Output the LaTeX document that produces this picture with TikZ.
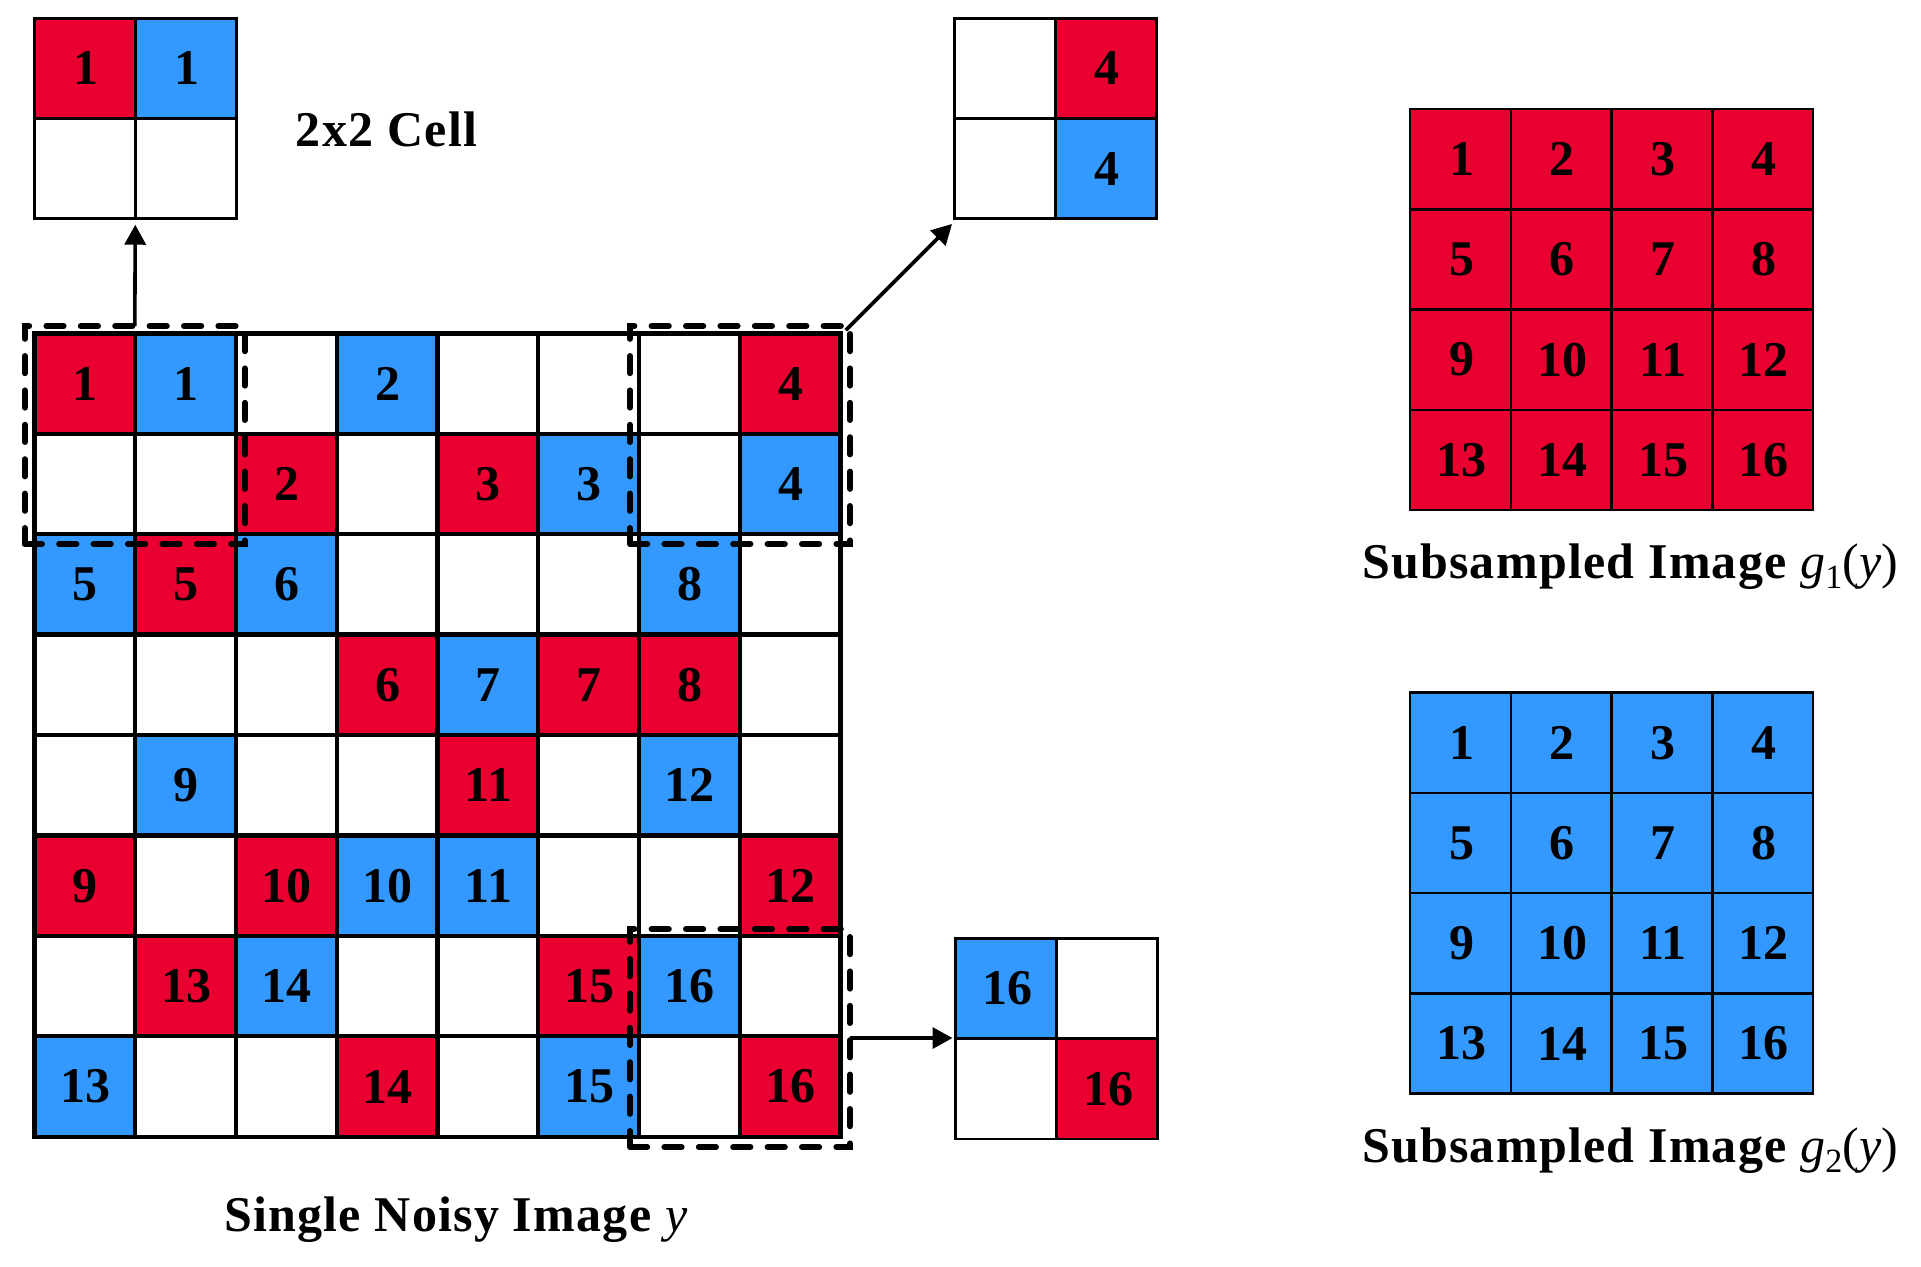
\documentclass[tikz,border=0pt]{standalone}
\usepackage{fontspec}
\setmainfont{Liberation Serif}
\newfontfamily\lblfont[LetterSpace=2.5]{Liberation Serif}
\usetikzlibrary{arrows.meta}
\definecolor{cellred}{HTML}{EA0030}
\definecolor{cellblue}{HTML}{3399FF}
\newcommand{\numfont}{\fontsize{25}{26}\selectfont\bfseries}
\newcommand{\lblsize}{\lblfont\fontsize{25}{27}\selectfont\bfseries}
\newcommand{\varit}[1]{{\mdseries\itshape #1}}
\newcommand{\subidx}[1]{\raisebox{-0.2em}{\mdseries\fontsize{17}{18}\selectfont #1}}
\tikzset{
  every node/.style={inner sep=0pt,outer sep=0pt},
  gridcell/.style={draw=black,line width=2.2pt,minimum width=50.375pt,minimum height=50.25pt,font=\numfont,execute at begin node=\hspace*{0.6pt}},
  smallcell/.style={draw=black,line width=1.4pt,minimum width=50.4pt,minimum height=50.1pt,font=\numfont,execute at begin node=\hspace*{1.4pt}},
  subcell/.style={draw=black,line width=1.25pt,minimum width=50.375pt,minimum height=50.125pt,font=\numfont,execute at begin node=\hspace*{1.2pt}},
  rd/.style={fill=cellred},
  bl/.style={fill=cellblue},
  wh/.style={fill=white},
  groupbox/.style={minimum width=100.8pt,minimum height=100.2pt},
  dashbox/.style={draw=black,line width=3pt,line cap=round,dash pattern=on 8.6pt off 8.6pt,minimum width=110pt,minimum height=109pt},
  conn/.style={line width=1.8pt,-{Triangle[length=10pt,width=10.5pt]}},
  lbl/.style={font=\lblsize,anchor=base},
}
\begin{document}
\begin{tikzpicture}[x=0.5pt,y=-0.5pt]
\useasboundingbox (0,0) rectangle (1921,1266);
% main grid
\foreach \r/\c/\s/\t in {
 1/1/rd/1,1/2/bl/1,1/3/wh/{},1/4/bl/2,1/5/wh/{},1/6/wh/{},1/7/wh/{},1/8/rd/4,
 2/1/wh/{},2/2/wh/{},2/3/rd/2,2/4/wh/{},2/5/rd/3,2/6/bl/3,2/7/wh/{},2/8/bl/4,
 3/1/bl/5,3/2/rd/5,3/3/bl/6,3/4/wh/{},3/5/wh/{},3/6/wh/{},3/7/bl/8,3/8/wh/{},
 4/1/wh/{},4/2/wh/{},4/3/wh/{},4/4/rd/6,4/5/bl/7,4/6/rd/7,4/7/rd/8,4/8/wh/{},
 5/1/wh/{},5/2/bl/9,5/3/wh/{},5/4/wh/{},5/5/rd/11,5/6/wh/{},5/7/bl/12,5/8/wh/{},
 6/1/rd/9,6/2/wh/{},6/3/rd/10,6/4/bl/10,6/5/bl/11,6/6/wh/{},6/7/wh/{},6/8/rd/12,
 7/1/wh/{},7/2/rd/13,7/3/bl/14,7/4/wh/{},7/5/wh/{},7/6/rd/15,7/7/bl/16,7/8/wh/{},
 8/1/bl/13,8/2/wh/{},8/3/wh/{},8/4/rd/14,8/5/wh/{},8/6/bl/15,8/7/wh/{},8/8/rd/16}
 {\node[gridcell,\s] (m\r\c) at ({34.5+100.75*(\c-0.5)},{333.5+100.4*(\r-0.5)}) {\t};}
% 2x2 cells
\foreach \r/\c/\s/\t in {1/1/rd/1,1/2/bl/1,2/1/wh/{},2/2/wh/{}}
 {\node[smallcell,\s] (a\r\c) at ({34.5+100.8*(\c-0.5)},{18.3+100.2*(\r-0.5)}) {\t};}
\foreach \r/\c/\s/\t in {1/1/wh/{},1/2/rd/4,2/1/wh/{},2/2/bl/4}
 {\node[smallcell,\s] (b\r\c) at ({954.5+100.8*(\c-0.5)},{18.3+100.2*(\r-0.5)}) {\t};}
\foreach \r/\c/\s/\t in {1/1/bl/16,1/2/wh/{},2/1/wh/{},2/2/rd/16}
 {\node[smallcell,\s] (c\r\c) at ({955.5+100.8*(\c-0.5)},{938.5+100.2*(\r-0.5)}) {\t};}
% subsampled grids
\foreach \r in {1,...,4} \foreach \c in {1,...,4} {
  \pgfmathtruncatemacro{\n}{(\r-1)*4+\c}
  \node[subcell,rd] (s\r\c) at ({1410+100.75*(\c-0.5)},{109+100.25*(\r-0.5)}) {\n};
  \node[subcell,bl] (t\r\c) at ({1410+100.75*(\c-0.5)},{692.6+100.25*(\r-0.5)}) {\n};
}
% invisible outlines of the 2x2 cells, connector targets
\node[groupbox] (A) at (135.3,118.5) {};
\node[groupbox] (C) at (1056.3,1038.7) {};
\coordinate (Btip) at (952,224);
% dashed selections
\node[dashbox] (dashA) at (134.8,435) {};
\node[dashbox] (dashB) at (740,435) {};
\node[dashbox] (dashC) at (740,1038) {};
% connectors
\draw[conn,shorten >=3pt] (dashA.north) -- (A.south);
\draw[conn,shorten <=-3pt] (dashB.north east) -- (Btip);
\draw[conn,shorten >=1.5pt] (dashC.east) -- (dashC.east -| C.west);
% labels
\node[lbl] (l1) at (386.5,146.5) {2x2 Cell};
\node[lbl] (l2) at (455.7,1231) {Single Noisy Image \varit{y}};
\node[lbl] (l3) at (1630,578.5) {Subsampled Image \varit{g}\subidx{1}{\mdseries(}\varit{y}{\mdseries)}};
\node[lbl] (l4) at (1630,1162) {Subsampled Image \varit{g}\subidx{2}{\mdseries(}\varit{y}{\mdseries)}};
\end{tikzpicture}
\end{document}
